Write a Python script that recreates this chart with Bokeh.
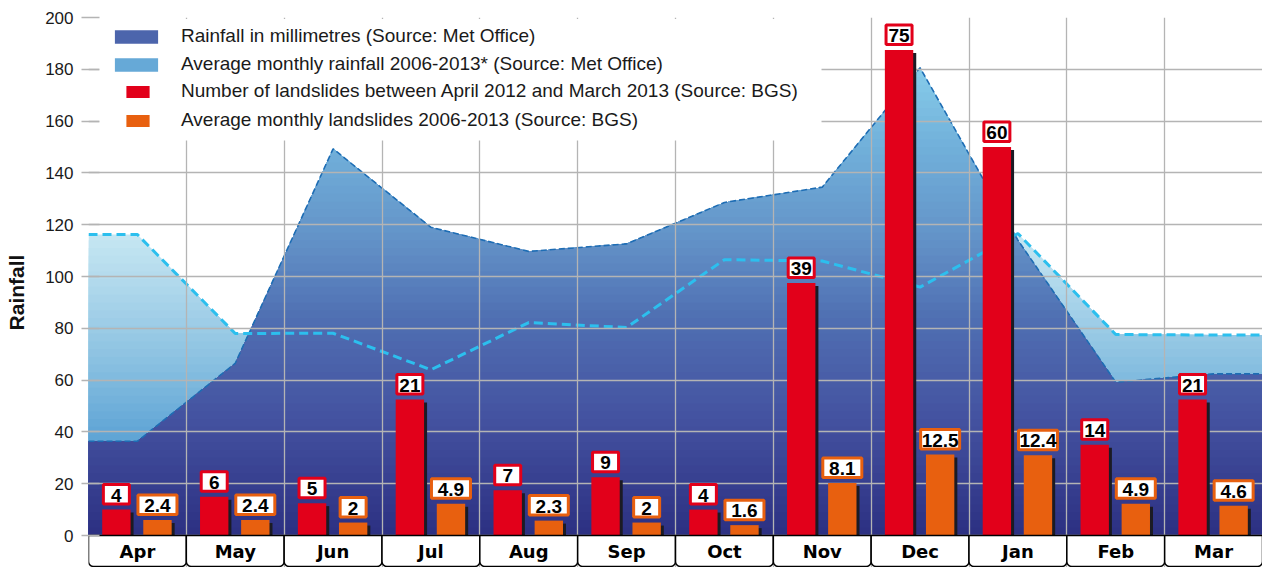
import numpy as np
from bokeh.plotting import figure
from bokeh.models import Range1d, FixedTicker, Legend, LegendItem, BoxAnnotation
from bokeh.core.properties import value
from bokeh.embed import file_html
from bokeh.resources import INLINE

# ---------------- data ----------------
months = ["Apr", "May", "Jun", "Jul", "Aug", "Sep", "Oct", "Nov", "Dec", "Jan", "Feb", "Mar"]
rainfall = [36.4, 66.5, 149.3, 119, 109.7, 112.6, 128.6, 134.5, 180.6, 114, 59.2, 62.4]
avg_rainfall = [116.2, 78, 78.1, 64, 82.2, 80.3, 106.5, 106, 95.9, 116.6, 77.6, 77.4]
landslides = [4, 6, 5, 21, 7, 9, 4, 39, 75, 60, 14, 21]
avg_landslides = [2.4, 2.4, 2, 4.9, 2.3, 2, 1.6, 8.1, 12.5, 12.4, 4.9, 4.6]
y_ticks = list(range(0, 201, 20))
LANDSLIDE_SCALE = 2.5  # landslide counts drawn on the rainfall scale

# ---------------- layout ----------------
W, H = 1262, 567
LEFT, TOP = 88, 17
Y_MAX = 200
frame_w = W - LEFT
frame_h = H - TOP
ppu = 2.59                            # pixels per rainfall unit
Y_MIN = Y_MAX - frame_h / ppu
ppx = frame_w / len(months)          # pixels per month

p = figure(width=W, height=H, x_range=Range1d(0, len(months)), y_range=Range1d(Y_MIN, Y_MAX),
           output_backend="svg", toolbar_location=None, x_axis_location=None,
           min_border_left=LEFT, min_border_right=0, min_border_top=TOP, min_border_bottom=0)
p.outline_line_color = None
p.background_fill_color = "white"
p.border_fill_color = "white"

# grid
p.xgrid.ticker = FixedTicker(ticks=list(range(len(months) + 1)))
p.xgrid.grid_line_color = "#b4b4b4"
p.xgrid.grid_line_width = 1.3
p.ygrid.grid_line_color = "#b4b4b4"
p.ygrid.grid_line_width = 1.3

# y axis
ax = p.yaxis[0]
ax.ticker = FixedTicker(ticks=y_ticks)
ax.axis_label = "Rainfall"
ax.axis_label_text_font = "Liberation Sans"
ax.axis_label_text_font_style = "bold"
ax.axis_label_text_font_size = "21px"
ax.axis_label_text_color = "#111111"
ax.axis_label_standoff = 14
ax.major_label_text_font = "Liberation Sans"
ax.major_label_text_font_size = "17px"
ax.major_label_text_color = "#1a1a1a"
ax.major_label_standoff = 8
ax.major_tick_out = 7
ax.major_tick_in = 11
ax.major_tick_line_color = "#b4b4b4"
ax.major_tick_line_width = 1.3
ax.minor_tick_line_color = None
ax.axis_line_color = None


# ---------------- helpers ----------------
def hex2rgb(h):
    h = h.lstrip("#")
    return np.array([int(h[i:i + 2], 16) for i in (0, 2, 4)], dtype=float)


def grad(stops, y):
    ys = [s[0] for s in stops]
    cols = [hex2rgb(s[1]) for s in stops]
    y = min(max(y, ys[0]), ys[-1])
    for i in range(len(ys) - 1):
        if ys[i] <= y <= ys[i + 1]:
            t = (y - ys[i]) / (ys[i + 1] - ys[i])
            c = cols[i] + t * (cols[i + 1] - cols[i])
            return "#%02x%02x%02x" % tuple(int(round(v)) for v in c)
    return stops[-1][1]


def clip_below(xs, ys, lvl):
    """Outline min(f, lvl) of the polyline f, with its crossings of lvl."""
    ox, oy = [], []
    for i in range(len(xs)):
        if i > 0:
            x0, y0, x1, y1 = xs[i - 1], ys[i - 1], xs[i], ys[i]
            if (y0 - lvl) * (y1 - lvl) < 0:
                t = (lvl - y0) / (y1 - y0)
                ox.append(x0 + t * (x1 - x0))
                oy.append(lvl)
        ox.append(xs[i])
        oy.append(min(ys[i], lvl))
    return ox, oy


centers = [i + 0.5 for i in range(len(months))]
x_pts = [0.0] + centers + [float(len(months))]


def edge_extend(vals):
    return [vals[0]] + list(vals) + [vals[-1]]


def gradient_area(vals, stops, step=3.0):
    ys = edge_extend(vals)
    top = np.ceil(max(vals) / step) * step
    rs = {}
    for b in np.arange(top, 0, -step):
        bx, by = clip_below(x_pts, ys, b)
        rs[float(b)] = p.varea(x=bx, y1=0, y2=by, fill_color=grad(stops, b - step / 2),
                               fill_alpha=1.0, level="image")
    return rs


avg_stops = [(0, "#4a8fc8"), (40, "#61a6d6"), (70, "#8ec3e2"), (100, "#b4dbed"), (120, "#cae9f3")]
rain_stops = [(0, "#2c3082"), (45, "#4452a0"), (85, "#5070b3"), (115, "#6393c8"),
              (150, "#71b0da"), (185, "#8ad0ec")]

avg_bands = gradient_area(avg_rainfall, avg_stops)
rain_bands = gradient_area(rainfall, rain_stops)

p.line(x_pts, edge_extend(rainfall), line_color="#1e6db4", line_width=1.6,
       line_dash="6 3", level="image")
p.line(x_pts, edge_extend(avg_rainfall), line_color="#2cbfee", line_width=3,
       line_dash="9 5", level="image")

# ---------------- bars ----------------
BAR_W = 0.29
red_x = [i + 0.285 for i in range(len(months))]
org_x = [i + 0.705 for i in range(len(months))]
red_top = [v * LANDSLIDE_SCALE for v in landslides]
org_top = [v * LANDSLIDE_SCALE for v in avg_landslides]
sdx = 3.0 / ppx
sdy = 3.0 / ppu
p.vbar(x=[x + sdx for x in red_x], top=[t - sdy for t in red_top], bottom=0, width=BAR_W,
       fill_color="#1b1b24", line_color=None)
p.vbar(x=[x + sdx for x in org_x], top=[t - sdy for t in org_top], bottom=0, width=BAR_W,
       fill_color="#1b1b24", line_color=None)
red_r = p.vbar(x=red_x, top=red_top, bottom=0, width=BAR_W, fill_color="#e2001a", line_color=None)
org_r = p.vbar(x=org_x, top=org_top, bottom=0, width=BAR_W, fill_color="#e8600f", line_color=None)


def value_labels(xs, tops, vals, color):
    texts = [f"{v:g}" for v in vals]
    widths = [26 if len(t) <= 2 else 39 for t in texts]
    yc = [t + 15.25 / ppu for t in tops]
    p.rect(x=xs, y=yc, width=widths, height=19.5, width_units="screen", height_units="screen",
           fill_color="white", line_color=color, line_width=3)
    p.text(x=xs, y=yc, text=texts, text_align="center", text_baseline="middle", y_offset=1,
           text_font=value("Liberation Sans"), text_font_style="bold",
           text_font_size="19px", text_color="black")


value_labels(red_x, red_top, landslides, "#e2001a")
value_labels(org_x, org_top, avg_landslides, "#e8600f")

# ---------------- month boxes ----------------
p.quad(left=list(range(len(months))), right=[i + 1 for i in range(len(months))],
       top=0, bottom=Y_MIN + 0.4, fill_color="white", line_color="black", line_width=1.5,
       border_radius=(0, 0, 5, 5))
p.text(x=centers, y=[Y_MIN / 2] * len(months), text=months, text_align="center",
       text_baseline="middle", text_font=value("DejaVu Sans"), text_font_style="bold",
       text_font_size="18px", text_color="black")

# ---------------- legend ----------------
def px_to_x(px):   # figure px -> data x
    return (px - LEFT) / ppx


def px_to_y(py):   # figure px -> data y
    return Y_MAX - (py - TOP) / ppu


p.add_layout(BoxAnnotation(left=px_to_x(99), right=px_to_x(821), bottom=px_to_y(140),
                           top=px_to_y(18.5), fill_color="white", fill_alpha=1.0, line_color=None))

common = dict(label_text_font="Liberation Sans", label_text_font_size="19px",
              label_text_color="#1a1a1a", label_height=22, padding=7, margin=0,
              border_line_color=None, background_fill_alpha=0.0)
leg1 = Legend(items=[LegendItem(label="Rainfall in millimetres (Source: Met Office)", renderers=[rain_bands[72.0]]),
                     LegendItem(label="Average monthly rainfall 2006-2013* (Source: Met Office)", renderers=[avg_bands[45.0]])],
              location=(21, 492), glyph_width=54, glyph_height=17, label_standoff=18, spacing=6, **common)
leg2 = Legend(items=[LegendItem(label="Number of landslides between April 2012 and March 2013 (Source: BGS)", renderers=[red_r]),
                     LegendItem(label="Average monthly landslides 2006-2013 (Source: BGS)", renderers=[org_r])],
              location=(35, 436), glyph_width=29, glyph_height=15, label_standoff=29, spacing=7, **common)
p.add_layout(leg2)
p.add_layout(leg1)

open("out.html", "w").write(file_html(p, INLINE))
